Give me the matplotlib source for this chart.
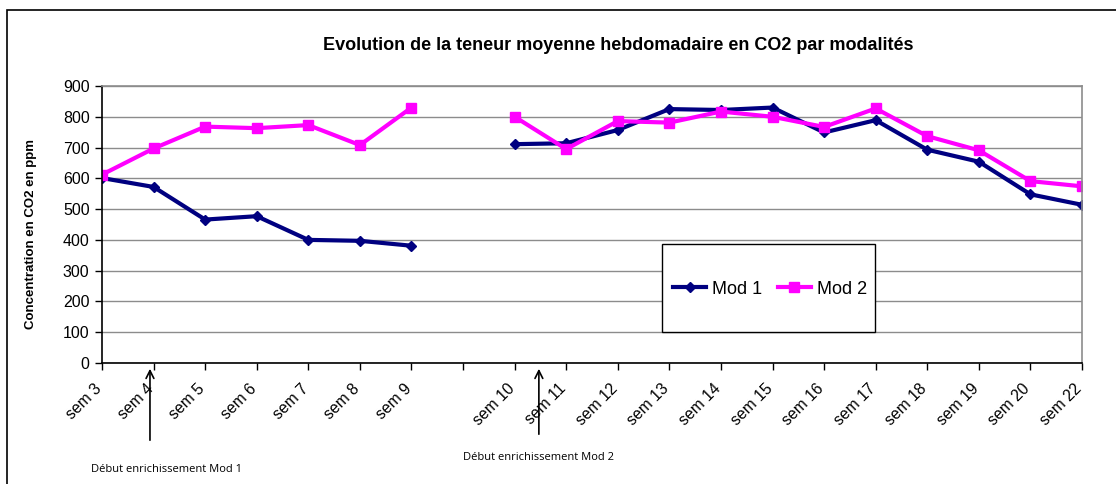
import numpy as np
import matplotlib
matplotlib.use("Agg")
import matplotlib.pyplot as plt
from matplotlib.patches import Rectangle
from matplotlib.lines import Line2D
import matplotlib.transforms as mtransforms

plt.rcParams['font.family'] = ['Liberation Sans', 'DejaVu Sans']

categories = ["sem 3", "sem 4", "sem 5", "sem 6", "sem 7", "sem 8", "sem 9", "",
              "sem 10", "sem 11", "sem 12", "sem 13", "sem 14", "sem 15", "sem 16",
              "sem 17", "sem 18", "sem 19", "sem 20", "sem 22"]
mod1 = [601, 572, 466, 477, 400, 397, 381, np.nan,
        711, 714, 757, 825, 822, 830, 749, 789, 693, 654, 548, 514]
mod2 = [612, 697, 768, 763, 773, 708, 830, np.nan,
        800, 695, 786, 781, 817, 800, 767, 827, 737, 691, 591, 574]
yticks = list(range(0, 1000, 100))

W, H = 1116, 484
fig = plt.figure(figsize=(W / 100, H / 100), dpi=100)

# outer chart border (left and top visible)
fig.add_artist(Rectangle((7 / W, -0.1), 1.2, 1 - 10 / H + 0.1, transform=fig.transFigure,
                         fill=False, edgecolor='black', linewidth=1.2))

ax = fig.add_axes([102 / W, 1 - 363 / H, (1082 - 102) / W, (363 - 86) / H])
x = np.arange(len(categories))
ax.plot(x, mod1, color='#000080', linewidth=3, marker='D', markersize=5, label='Mod 1')
ax.plot(x, mod2, color='#FF00FF', linewidth=3, marker='s', markersize=7, label='Mod 2')

ax.set_xlim(0, len(categories) - 1)
ax.set_ylim(0, 900)
ax.set_yticks(yticks)
ax.set_yticklabels([str(v) for v in yticks], fontsize=11.5)
ax.yaxis.grid(True, color='#8c8c8c', linewidth=1)
ax.set_axisbelow(True)
ax.set_xticks(x)
ax.set_xticklabels([])
trans = mtransforms.blended_transform_factory(ax.transData, ax.transAxes) + \
    mtransforms.ScaledTranslation(-8 / 100, -18 / 100, fig.dpi_scale_trans)
for xi, lab in zip(x, categories):
    ax.text(xi, 0, lab, transform=trans, rotation=45, ha='right', va='top',
            rotation_mode='anchor', fontsize=11.3, clip_on=False)
ax.tick_params(axis='x', direction='out', length=5, width=1, pad=2)
ax.tick_params(axis='y', direction='out', length=5, width=1, pad=4)
for s in ['top', 'right']:
    ax.spines[s].set_color('#8c8c8c')
    ax.spines[s].set_linewidth(1.2)
for s in ['left', 'bottom']:
    ax.spines[s].set_color('black')
    ax.spines[s].set_linewidth(1.2)

fig.text(31 / W, 1 - 234 / H, "Concentration en CO2 en ppm", rotation=90,
         ha='center', va='center', fontsize=9.5, fontweight='bold')

fig.text(618 / W, 1 - 45 / H, "Evolution de la teneur moyenne hebdomadaire en CO2 par modalités",
         ha='center', va='center', fontsize=13, fontweight='bold')

# legend box
fig.add_artist(Rectangle((662 / W, 1 - 332 / H), (875 - 662) / W, (332 - 244) / H,
                         transform=fig.transFigure, fill=True, facecolor='white',
                         edgecolor='black', linewidth=1, zorder=5))
handles = [Line2D([], [], color='#000080', linewidth=3, marker='D', markersize=5),
           Line2D([], [], color='#FF00FF', linewidth=3, marker='s', markersize=7)]
leg = fig.legend(handles, ['Mod 1', 'Mod 2'], loc='center', bbox_to_anchor=(770 / W, 1 - 289 / H),
                 ncol=2, fontsize=13, frameon=False, handlelength=1.8,
                 handletextpad=0.33, columnspacing=0.9)
leg.set_zorder(6)

# annotations
for xd, ytxt, xtxt, ytail, txt in [(0.93, 469, 91, 443, "Début enrichissement Mod 1"),
                                   (8.47, 457, 463, 437, "Début enrichissement Mod 2")]:
    xf = ax.transData.transform((xd, 0))[0] / W
    ax.annotate("", xy=(xf, 1 - 366 / H), xytext=(xf, 1 - ytail / H),
                xycoords='figure fraction', textcoords='figure fraction',
                arrowprops=dict(arrowstyle='->', color='black', linewidth=1.2, mutation_scale=14))
    fig.text(xtxt / W, 1 - ytxt / H, txt, ha='left', va='center', fontsize=8,
             family=['Open Sans', 'DejaVu Sans'])

fig.savefig("out.png", dpi=100)
